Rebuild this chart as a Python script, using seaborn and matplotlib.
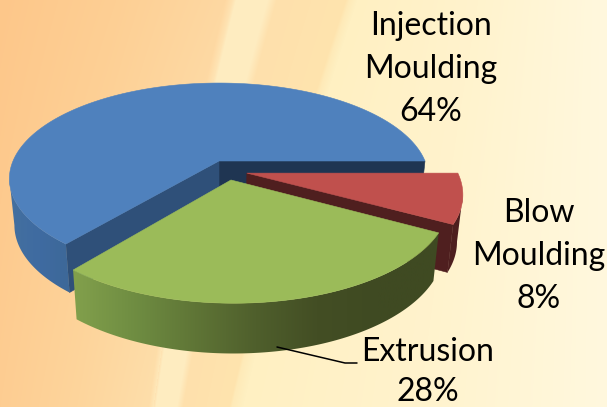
import numpy as np
import matplotlib
matplotlib.use("Agg")
import matplotlib.pyplot as plt
from matplotlib.patches import Polygon
import seaborn as sns

# chart data
categories = ["Injection\nMoulding", "Extrusion", "Blow\nMoulding"]
shares = [64, 28, 8]
share_labels = ["64%", "28%", "8%"]

sns.set_theme(style="white")
plt.rcParams["font.family"] = ["Lato", "DejaVu Sans"]

W, H = 607, 407
fig = plt.figure(figsize=(W / 100, H / 100), dpi=100)
ax = fig.add_axes([0, 0, 1, 1])

# pie gives the wedge angles, the flat wedges are then redrawn in perspective
wedges, _ = ax.pie(shares, startangle=0, counterclock=True)
angles = [(w.theta1, w.theta2) for w in wedges]
for w in wedges:
    w.remove()
ax.set_aspect("auto")
ax.set_xlim(0, W)
ax.set_ylim(H, 0)
ax.axis("off")

CX, CY, RX, RY, K = 219, 161, 206, 92.4, 0.185
shift = {"Injection\nMoulding": (0, 0), "Extrusion": (0.056, -0.198), "Blow\nMoulding": (0.132, -0.128)}


def project(u, v):
    s = 1 / (1 + K * v)
    return CX + RX * u * s, CY - RY * v * s


def lower(x, y):
    # the bottom rim of the disc, seen slightly from above
    return CX + (x - CX) * 0.976, y + 46 + 0.03 * (y - CY)


def arc(theta1, theta2, off, n=200):
    t = np.radians(np.linspace(theta1, theta2, n))
    return project(np.cos(t) + off[0], np.sin(t) + off[1])


def wall(x, y, colors, order):
    xb, yb = lower(x, y)
    pts = np.r_[np.c_[x, y], np.c_[xb, yb][::-1]]
    poly = Polygon(pts, closed=True, fc="none", ec="none", zorder=order)
    ax.add_patch(poly)
    pal = sns.blend_palette(colors, 256)
    grad = np.array(pal)[None, :, :]
    im = ax.imshow(grad, extent=(pts[:, 0].min(), pts[:, 0].max(), H, 0), aspect="auto",
                   interpolation="bilinear", zorder=order)
    im.set_clip_path(poly)
    ax.set_xlim(0, W)
    ax.set_ylim(H, 0)


def cut(theta, off, color, order):
    ends = project(np.array([off[0], np.cos(np.radians(theta)) + off[0]]),
                   np.array([off[1], np.sin(np.radians(theta)) + off[1]]))
    xb, yb = lower(*ends)
    pts = np.c_[np.r_[ends[0], xb[::-1]], np.r_[ends[1], yb[::-1]]]
    ax.add_patch(Polygon(pts, closed=True, fc=color, ec=color, lw=0.4, zorder=order))


def top(theta1, theta2, off, color, order):
    x, y = arc(theta1, theta2, off)
    x0, y0 = project(off[0], off[1])
    pts = np.c_[np.r_[x0, x], np.r_[y0, y]]
    ax.add_patch(Polygon(pts, closed=True, fc=color, ec=color, lw=0.4, zorder=order))


# background: warm gradient with soft curved bands
yy, xx = np.mgrid[0:H, 0:W].astype(float)
e1 = 232 - 0.255 * yy + 0.00015 * yy ** 2
e2 = 349 - 0.34 * yy + 0.000125 * yy ** 2
p = np.where(xx < e1, xx / e1, np.where(xx < e2, 1 + (xx - e1) / (e2 - e1), 2 + (xx - e2) / (W - e2)))
stops = [0, 0.5, 0.97, 1.03, 1.3, 1.38, 1.97, 2.03, 2.5, 3]
r = np.interp(p, stops, [253, 253, 254, 254, 254, 254, 254, 255, 255, 255])
g = np.interp(p, stops, [199, 207, 216, 236, 236, 224, 228, 240, 243, 248])
b = np.interp(p, stops, [138, 148, 162, 192, 192, 172, 174, 194, 205, 222])
# the left part pales a little towards the bottom
g = np.where(xx < e1, g + 6 * yy / H, g)
b = np.where(xx < e1, b + 8 * yy / H, b)
bg = np.dstack([r, g, b]).astype(np.uint8)
ax.imshow(bg, extent=(0, W, H, 0), aspect="auto", zorder=0)
ax.set_xlim(0, W)
ax.set_ylim(H, 0)

blue, green, red = angles
off_b, off_g, off_r = shift[categories[0]], shift[categories[1]], shift[categories[2]]

# wall arcs start where each disc reaches its widest point
t_blue = np.linspace(blue[0], blue[1], 721)
blue_left = t_blue[np.argmin(arc(blue[0], blue[1], off_b, 721)[0])]
t_red = np.linspace(red[0], red[1], 361)
red_right = t_red[np.argmax(arc(red[0], red[1], off_r, 361)[0])]

# injection moulding
cut(blue[0], off_b, "#1f3552", 1)
cut(blue[1], off_b, "#2f5079", 1)
wall(*arc(blue_left, blue[1], off_b), ["#44709f", "#3f6ba1", "#3d6898"], 1)
top(*blue, off_b, "#4f81bd", 2)

# blow moulding
cut(red[0], off_r, "#4f1f1f", 3)
wall(*arc(red[0], red_right, off_r), ["#4e1f1f", "#4e1f1f"], 3)
top(*red, off_r, "#c0504d", 4)

# extrusion
wall(*arc(*green, off_g), ["#82a04c", "#6f8d42", "#5f7536", "#4f5f2c", "#434e24", "#3f4a22", "#3f4a22"], 5)
top(*green, off_g, "#9bbb59", 6)

# leader line and labels
ax.plot([277, 345, 357], [347, 363, 363], color="black", lw=1.1, zorder=7)
label_pos = [(431, 69, 1.55), (428, 372, 1.42), (539, 256, 1.55)]
for name, pct, (tx, ty, spacing) in zip(categories, share_labels, label_pos):
    ax.text(tx, ty, f"{name}\n{pct}", ha="center", va="center", fontsize=23,
            color="black", linespacing=spacing, zorder=8)

fig.savefig("out.png", dpi=100)
